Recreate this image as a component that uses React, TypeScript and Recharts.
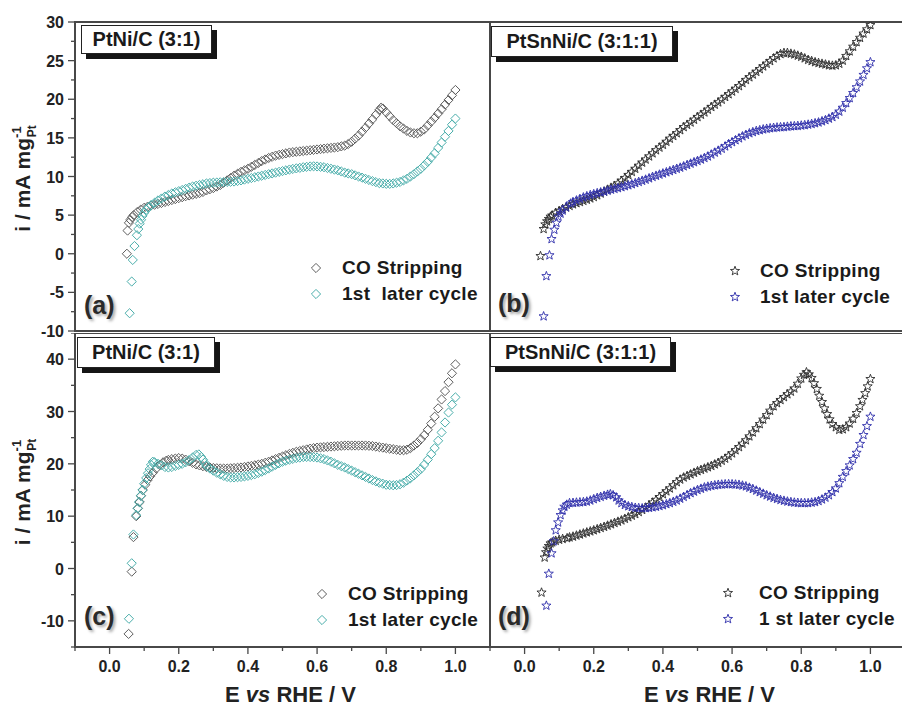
import React from 'react';
import { ScatterChart, Scatter, XAxis, YAxis, ReferenceArea, Legend } from 'recharts';

type Pt = [number, number];

// (a) PtNi/C (3:1), top
const aCo: Pt[] = [
  [0.05, 0], [0.052, 3], [0.056, 4.0], [0.06, 4.4], [0.065, 4.75], [0.07, 5.0], [0.08, 5.4], [0.09, 5.7], [0.1, 5.95],
  [0.11, 6.1], [0.12, 6.25], [0.13, 6.35], [0.14, 6.45], [0.15, 6.57], [0.16, 6.7], [0.17, 6.82], [0.18, 6.95],
  [0.19, 7.07], [0.2, 7.2], [0.21, 7.32], [0.22, 7.45], [0.23, 7.55], [0.24, 7.65], [0.25, 7.75], [0.26, 7.85],
  [0.27, 8.0], [0.28, 8.2], [0.29, 8.35], [0.3, 8.5], [0.31, 8.7], [0.32, 8.9], [0.33, 9.2], [0.34, 9.5], [0.35, 9.8],
  [0.36, 10.1], [0.37, 10.35], [0.38, 10.6], [0.39, 10.8], [0.4, 11.0], [0.41, 11.25], [0.42, 11.5], [0.43, 11.75],
  [0.44, 12.0], [0.45, 12.2], [0.46, 12.4], [0.47, 12.55], [0.48, 12.7], [0.49, 12.8], [0.5, 12.9], [0.51, 13.0],
  [0.52, 13.1], [0.53, 13.15], [0.54, 13.2], [0.55, 13.25], [0.56, 13.3], [0.57, 13.35], [0.58, 13.4], [0.59, 13.45],
  [0.6, 13.5], [0.61, 13.55], [0.62, 13.6], [0.63, 13.65], [0.64, 13.7], [0.65, 13.75], [0.66, 13.8], [0.67, 13.9],
  [0.68, 14.0], [0.69, 14.2], [0.7, 14.5], [0.71, 14.9], [0.72, 15.3], [0.73, 15.8], [0.74, 16.3], [0.75, 16.85],
  [0.76, 17.4], [0.77, 18.0], [0.78, 18.6], [0.785, 18.9], [0.79, 18.8], [0.8, 18.3], [0.81, 17.8], [0.82, 17.3],
  [0.83, 16.9], [0.84, 16.5], [0.85, 16.2], [0.86, 15.9], [0.87, 15.7], [0.88, 15.6], [0.89, 15.6], [0.9, 15.8],
  [0.91, 16.1], [0.92, 16.6], [0.93, 17.1], [0.94, 17.6], [0.95, 18.15], [0.96, 18.7], [0.97, 19.3], [0.98, 19.9],
  [0.99, 20.5], [1.0, 21.2],
];
const aLater: Pt[] = [
  [0.058, -7.7], [0.064, -3.6], [0.067, -0.8], [0.072, 1.0], [0.079, 2.4], [0.083, 3.2], [0.087, 3.9], [0.091, 4.4],
  [0.095, 4.9], [0.1, 5.3], [0.106, 5.7], [0.113, 6.0], [0.12, 6.3], [0.13, 6.6], [0.14, 6.9], [0.15, 7.15], [0.16, 7.4],
  [0.17, 7.6], [0.18, 7.8], [0.19, 7.95], [0.2, 8.1], [0.21, 8.25], [0.22, 8.4], [0.23, 8.55], [0.24, 8.7], [0.25, 8.8],
  [0.26, 8.9], [0.27, 9.0], [0.28, 9.1], [0.29, 9.15], [0.3, 9.2], [0.31, 9.22], [0.32, 9.25], [0.33, 9.27], [0.34, 9.3],
  [0.35, 9.32], [0.36, 9.35], [0.37, 9.42], [0.38, 9.5], [0.39, 9.6], [0.4, 9.7], [0.41, 9.8], [0.42, 9.9], [0.43, 10.0],
  [0.44, 10.1], [0.45, 10.2], [0.46, 10.3], [0.47, 10.4], [0.48, 10.5], [0.49, 10.6], [0.5, 10.7], [0.51, 10.8],
  [0.52, 10.9], [0.53, 10.98], [0.54, 11.05], [0.55, 11.12], [0.56, 11.2], [0.57, 11.25], [0.58, 11.3], [0.59, 11.32],
  [0.6, 11.3], [0.61, 11.25], [0.62, 11.2], [0.63, 11.1], [0.64, 11.0], [0.65, 10.9], [0.66, 10.8], [0.67, 10.65],
  [0.68, 10.5], [0.69, 10.4], [0.7, 10.3], [0.71, 10.15], [0.72, 10.0], [0.73, 9.85], [0.74, 9.7], [0.75, 9.55],
  [0.76, 9.4], [0.77, 9.27], [0.78, 9.15], [0.79, 9.1], [0.8, 9.05], [0.81, 9.05], [0.82, 9.1], [0.83, 9.2], [0.84, 9.3],
  [0.85, 9.5], [0.86, 9.7], [0.87, 10.0], [0.88, 10.3], [0.89, 10.65], [0.9, 11.0], [0.91, 11.45], [0.92, 11.9],
  [0.93, 12.45], [0.94, 13.0], [0.95, 13.7], [0.96, 14.4], [0.97, 15.15], [0.98, 15.9], [0.99, 16.7], [1.0, 17.5],
];

// (b) PtSnNi/C (3:1:1), top
const bCo: Pt[] = [
  [0.046, -0.3], [0.055, 3.2], [0.06, 3.8], [0.065, 4.2], [0.07, 4.5], [0.075, 4.8], [0.08, 4.95], [0.09, 5.3],
  [0.1, 5.55], [0.11, 5.8], [0.12, 6.0], [0.13, 6.2], [0.14, 6.4], [0.15, 6.55], [0.16, 6.7], [0.17, 6.85], [0.18, 7.0],
  [0.19, 7.17], [0.2, 7.35], [0.21, 7.57], [0.22, 7.8], [0.23, 8.05], [0.24, 8.3], [0.25, 8.55], [0.26, 8.8],
  [0.27, 9.1], [0.28, 9.45], [0.29, 9.8], [0.3, 10.2], [0.31, 10.6], [0.32, 11.0], [0.33, 11.4], [0.34, 11.8],
  [0.35, 12.2], [0.36, 12.6], [0.37, 13.0], [0.38, 13.4], [0.39, 13.75], [0.4, 14.1], [0.41, 14.5], [0.42, 14.9],
  [0.43, 15.25], [0.44, 15.6], [0.45, 16.0], [0.46, 16.4], [0.47, 16.7], [0.48, 17.0], [0.49, 17.35], [0.5, 17.7],
  [0.51, 18.0], [0.52, 18.3], [0.53, 18.65], [0.54, 19.0], [0.55, 19.3], [0.56, 19.6], [0.57, 19.95], [0.58, 20.3],
  [0.59, 20.65], [0.6, 21.0], [0.61, 21.35], [0.62, 21.7], [0.63, 22.1], [0.64, 22.5], [0.65, 22.85], [0.66, 23.2],
  [0.67, 23.55], [0.68, 23.9], [0.69, 24.25], [0.7, 24.6], [0.71, 24.95], [0.72, 25.3], [0.73, 25.6], [0.74, 25.85],
  [0.75, 26.0], [0.76, 26.0], [0.77, 25.9], [0.78, 25.8], [0.79, 25.65], [0.8, 25.5], [0.81, 25.3], [0.82, 25.1],
  [0.83, 24.95], [0.84, 24.8], [0.85, 24.7], [0.86, 24.6], [0.87, 24.5], [0.88, 24.4], [0.89, 24.35], [0.9, 24.4],
  [0.91, 24.6], [0.92, 25.0], [0.93, 25.6], [0.94, 26.2], [0.95, 26.8], [0.96, 27.4], [0.97, 27.95], [0.98, 28.5],
  [0.99, 29.05], [1.0, 29.6],
];
const bLater: Pt[] = [
  [0.055, -8.1], [0.063, -2.9], [0.072, -0.2], [0.078, 1.9], [0.086, 3.1], [0.092, 4.0], [0.098, 4.8], [0.104, 5.2],
  [0.11, 5.6], [0.12, 6.0], [0.133, 6.5], [0.14, 6.7], [0.15, 6.9], [0.16, 7.1], [0.17, 7.3], [0.18, 7.45], [0.19, 7.6],
  [0.2, 7.72], [0.21, 7.85], [0.22, 7.95], [0.23, 8.05], [0.24, 8.17], [0.25, 8.3], [0.26, 8.4], [0.27, 8.5],
  [0.28, 8.62], [0.29, 8.75], [0.3, 8.87], [0.31, 9.0], [0.32, 9.15], [0.33, 9.3], [0.34, 9.45], [0.35, 9.6],
  [0.36, 9.77], [0.37, 9.95], [0.38, 10.1], [0.39, 10.25], [0.4, 10.4], [0.41, 10.55], [0.42, 10.7], [0.43, 10.85],
  [0.44, 11.0], [0.45, 11.15], [0.46, 11.32], [0.47, 11.5], [0.48, 11.67], [0.49, 11.85], [0.5, 12.02], [0.51, 12.2],
  [0.52, 12.4], [0.53, 12.6], [0.54, 12.85], [0.55, 13.1], [0.56, 13.35], [0.57, 13.6], [0.58, 13.9], [0.59, 14.2],
  [0.6, 14.45], [0.61, 14.7], [0.62, 14.95], [0.63, 15.2], [0.64, 15.4], [0.65, 15.6], [0.66, 15.75], [0.67, 15.9],
  [0.68, 16.0], [0.69, 16.1], [0.7, 16.18], [0.71, 16.25], [0.72, 16.3], [0.73, 16.35], [0.74, 16.38], [0.75, 16.4],
  [0.76, 16.45], [0.77, 16.5], [0.78, 16.52], [0.79, 16.55], [0.8, 16.6], [0.81, 16.65], [0.82, 16.72], [0.83, 16.8],
  [0.84, 16.9], [0.85, 17.0], [0.86, 17.15], [0.87, 17.3], [0.88, 17.5], [0.89, 17.7], [0.9, 18.0], [0.91, 18.4],
  [0.92, 18.9], [0.93, 19.5], [0.94, 20.15], [0.95, 20.8], [0.96, 21.55], [0.97, 22.3], [0.98, 23.15], [0.99, 24.0],
  [1.0, 24.8],
];

// (c) PtNi/C (3:1), bottom
const cCo: Pt[] = [
  [0.055, -12.5], [0.064, -0.6], [0.069, 6.0], [0.077, 10.0], [0.082, 11.5], [0.087, 12.7], [0.091, 13.9], [0.096, 15.0],
  [0.103, 16.0], [0.11, 16.9], [0.117, 17.6], [0.125, 18.3], [0.135, 19.1], [0.145, 19.8], [0.155, 20.3], [0.164, 20.6],
  [0.17, 20.75], [0.18, 20.9], [0.19, 21.0], [0.2, 21.1], [0.21, 21.0], [0.22, 20.8], [0.23, 20.5], [0.24, 20.2],
  [0.25, 19.9], [0.26, 19.7], [0.27, 19.55], [0.28, 19.4], [0.29, 19.3], [0.3, 19.2], [0.31, 19.15], [0.32, 19.1],
  [0.33, 19.1], [0.34, 19.1], [0.35, 19.15], [0.36, 19.2], [0.37, 19.25], [0.38, 19.3], [0.39, 19.4], [0.4, 19.5],
  [0.41, 19.6], [0.42, 19.7], [0.43, 19.85], [0.44, 20.0], [0.45, 20.2], [0.46, 20.4], [0.47, 20.65], [0.48, 20.9],
  [0.49, 21.15], [0.5, 21.4], [0.51, 21.65], [0.52, 21.9], [0.53, 22.1], [0.54, 22.3], [0.55, 22.45], [0.56, 22.6],
  [0.57, 22.75], [0.58, 22.9], [0.59, 23.0], [0.6, 23.1], [0.61, 23.15], [0.62, 23.2], [0.63, 23.25], [0.64, 23.3],
  [0.65, 23.35], [0.66, 23.4], [0.67, 23.45], [0.68, 23.5], [0.69, 23.5], [0.7, 23.5], [0.71, 23.5], [0.72, 23.5],
  [0.73, 23.5], [0.74, 23.5], [0.75, 23.45], [0.76, 23.4], [0.77, 23.3], [0.78, 23.2], [0.79, 23.1], [0.8, 23.0],
  [0.81, 22.9], [0.82, 22.8], [0.83, 22.7], [0.84, 22.6], [0.85, 22.6], [0.86, 22.7], [0.87, 23.0], [0.88, 23.5],
  [0.89, 24.0], [0.9, 24.7], [0.91, 25.5], [0.92, 26.5], [0.93, 27.7], [0.94, 29.0], [0.95, 30.6], [0.96, 32.3],
  [0.97, 33.9], [0.98, 35.6], [0.99, 37.3], [1.0, 39.0],
];
const cLater: Pt[] = [
  [0.056, -9.6], [0.064, 1.0], [0.069, 6.5], [0.077, 10.2], [0.081, 11.5], [0.085, 12.7], [0.09, 13.9], [0.095, 15.0],
  [0.1, 16.2], [0.106, 17.3], [0.111, 18.2], [0.116, 19.0], [0.12, 19.8], [0.125, 20.4], [0.13, 20.3], [0.14, 20.0],
  [0.15, 19.7], [0.16, 19.4], [0.17, 19.3], [0.18, 19.4], [0.19, 19.6], [0.2, 19.8], [0.21, 20.0], [0.22, 20.3],
  [0.23, 20.7], [0.24, 21.2], [0.25, 21.7], [0.258, 21.8], [0.265, 21.3], [0.27, 20.8], [0.275, 20.2], [0.28, 19.6],
  [0.29, 19.1], [0.3, 18.7], [0.31, 18.3], [0.32, 18.0], [0.33, 17.7], [0.34, 17.5], [0.35, 17.4], [0.36, 17.4],
  [0.37, 17.45], [0.38, 17.5], [0.39, 17.6], [0.4, 17.7], [0.41, 17.85], [0.42, 18.0], [0.43, 18.25], [0.44, 18.5],
  [0.45, 18.8], [0.46, 19.1], [0.47, 19.45], [0.48, 19.8], [0.49, 20.1], [0.5, 20.4], [0.51, 20.6], [0.52, 20.8],
  [0.53, 20.95], [0.54, 21.1], [0.55, 21.2], [0.56, 21.3], [0.57, 21.32], [0.58, 21.3], [0.59, 21.27], [0.6, 21.2],
  [0.61, 21.05], [0.62, 20.9], [0.63, 20.65], [0.64, 20.4], [0.65, 20.1], [0.66, 19.8], [0.67, 19.55], [0.68, 19.3],
  [0.69, 19.0], [0.7, 18.7], [0.71, 18.4], [0.72, 18.1], [0.73, 17.8], [0.74, 17.5], [0.75, 17.2], [0.76, 16.9],
  [0.77, 16.65], [0.78, 16.4], [0.79, 16.2], [0.8, 16.0], [0.81, 15.95], [0.82, 15.9], [0.83, 15.95], [0.84, 16.1],
  [0.85, 16.4], [0.86, 16.8], [0.87, 17.25], [0.88, 17.8], [0.89, 18.4], [0.9, 19.0], [0.91, 19.85], [0.92, 20.8],
  [0.93, 21.85], [0.94, 23.0], [0.95, 24.4], [0.96, 26.0], [0.97, 27.9], [0.98, 29.8], [0.99, 31.3], [1.0, 32.7],
];

// (d) PtSnNi/C (3:1:1), bottom
const dCo: Pt[] = [
  [0.049, -4.6], [0.058, 2.1], [0.062, 3.1], [0.066, 3.8], [0.07, 4.3], [0.075, 4.8], [0.08, 5.0], [0.09, 5.3],
  [0.1, 5.5], [0.11, 5.65], [0.123, 5.8], [0.13, 5.95], [0.14, 6.1], [0.15, 6.3], [0.16, 6.5], [0.17, 6.7], [0.18, 6.9],
  [0.19, 7.1], [0.2, 7.3], [0.21, 7.52], [0.22, 7.75], [0.23, 7.97], [0.24, 8.2], [0.25, 8.45], [0.26, 8.7],
  [0.27, 8.95], [0.28, 9.2], [0.29, 9.5], [0.3, 9.8], [0.31, 10.1], [0.32, 10.4], [0.33, 10.8], [0.34, 11.2],
  [0.35, 11.65], [0.36, 12.1], [0.37, 12.6], [0.38, 13.1], [0.39, 13.65], [0.4, 14.2], [0.41, 14.75], [0.42, 15.3],
  [0.43, 15.9], [0.44, 16.5], [0.45, 17.0], [0.46, 17.4], [0.47, 17.7], [0.48, 18.0], [0.49, 18.3], [0.5, 18.6],
  [0.51, 18.85], [0.52, 19.1], [0.53, 19.35], [0.54, 19.6], [0.55, 19.9], [0.56, 20.2], [0.57, 20.6], [0.58, 21.0],
  [0.59, 21.5], [0.6, 22.0], [0.61, 22.6], [0.62, 23.2], [0.63, 23.85], [0.64, 24.5], [0.65, 25.25], [0.66, 26.0],
  [0.67, 26.8], [0.68, 27.6], [0.69, 28.45], [0.7, 29.3], [0.71, 30.15], [0.72, 31.0], [0.73, 31.6], [0.74, 32.2],
  [0.75, 32.75], [0.76, 33.3], [0.77, 33.8], [0.78, 34.4], [0.79, 35.3], [0.8, 36.3], [0.808, 37.0], [0.815, 37.5],
  [0.822, 37.1], [0.83, 36.4], [0.837, 35.4], [0.845, 34.3], [0.852, 33.0], [0.86, 31.8], [0.867, 30.6], [0.875, 29.5],
  [0.882, 28.5], [0.89, 27.6], [0.9, 27.0], [0.91, 26.5], [0.92, 26.6], [0.93, 27.0], [0.94, 27.7], [0.95, 28.6],
  [0.96, 29.7], [0.97, 31.0], [0.977, 32.2], [0.985, 33.5], [0.992, 34.8], [1.0, 36.2],
];
const dLater: Pt[] = [
  [0.063, -7.1], [0.07, -1.0], [0.078, 2.9], [0.084, 5.2], [0.09, 7.3], [0.097, 8.8], [0.104, 10.2], [0.11, 11.1],
  [0.115, 11.8], [0.122, 12.2], [0.13, 12.5], [0.14, 12.55], [0.15, 12.6], [0.16, 12.65], [0.17, 12.7], [0.18, 12.8],
  [0.19, 13.0], [0.2, 13.25], [0.21, 13.5], [0.22, 13.7], [0.23, 13.9], [0.24, 14.1], [0.248, 14.2], [0.256, 14.0],
  [0.265, 13.6], [0.272, 13.0], [0.28, 12.5], [0.29, 12.15], [0.3, 11.9], [0.31, 11.75], [0.32, 11.6], [0.33, 11.55],
  [0.34, 11.5], [0.35, 11.55], [0.36, 11.6], [0.37, 11.7], [0.38, 11.8], [0.39, 11.95], [0.4, 12.1], [0.41, 12.3],
  [0.42, 12.5], [0.43, 12.75], [0.44, 13.0], [0.45, 13.35], [0.46, 13.7], [0.47, 14.05], [0.48, 14.4], [0.49, 14.7],
  [0.5, 15.0], [0.51, 15.25], [0.52, 15.5], [0.53, 15.65], [0.54, 15.8], [0.55, 15.9], [0.56, 16.0], [0.57, 16.05],
  [0.58, 16.1], [0.59, 16.12], [0.6, 16.1], [0.61, 16.05], [0.62, 16.0], [0.63, 15.85], [0.64, 15.7], [0.65, 15.45],
  [0.66, 15.2], [0.67, 14.9], [0.68, 14.6], [0.69, 14.3], [0.7, 14.0], [0.71, 13.75], [0.72, 13.5], [0.73, 13.3],
  [0.74, 13.1], [0.75, 12.95], [0.76, 12.8], [0.77, 12.7], [0.78, 12.6], [0.79, 12.55], [0.8, 12.5], [0.81, 12.5],
  [0.82, 12.5], [0.83, 12.6], [0.84, 12.7], [0.85, 12.9], [0.86, 13.2], [0.87, 13.55], [0.88, 14.0], [0.89, 14.6],
  [0.9, 15.3], [0.91, 16.3], [0.92, 17.5], [0.93, 18.6], [0.94, 19.7], [0.95, 20.9], [0.96, 22.1], [0.97, 23.8],
  [0.98, 25.5], [0.99, 27.2], [1.0, 29.0],
];

const xTicks = [-0.1, 0, 0.1, 0.2, 0.3, 0.4, 0.5, 0.6, 0.7, 0.8, 0.9, 1.0, 1.1];
const topYTicks = [-10, -7.5, -5, -2.5, 0, 2.5, 5, 7.5, 10, 12.5, 15, 17.5, 20, 22.5, 25, 27.5, 30];
const bottomYTicks = [-15, -10, -5, 0, 5, 10, 15, 20, 25, 30, 35, 40, 45];

const FONT = "'Liberation Sans', Arial, sans-serif";
const GRAY = '#5e5e5e';
const TEAL = '#4aaeab';
const BLACK = '#2b2b2b';
const BLUE = '#2e2eaa';
const FRAME = '#484848';

const toData = (pts: Pt[]) => pts.map(([e, i]) => ({ e, i }));

function Marker({ kind, cx, cy, color }: { kind: string; cx: number; cy: number; color: string }) {
  if (kind === 'diamond') {
    const r = 4.6;
    return (
      <path
        d={`M${cx},${cy - r}L${cx + r},${cy}L${cx},${cy + r}L${cx - r},${cy}Z`}
        fill="none"
        stroke={color}
        strokeWidth={1}
      />
    );
  }
  const pts: string[] = [];
  for (let k = 0; k < 10; k++) {
    const rr = k % 2 === 0 ? 4.8 : 2.0;
    const a = -Math.PI / 2 + (k * Math.PI) / 5;
    pts.push(`${cx + rr * Math.cos(a)},${cy + rr * Math.sin(a)}`);
  }
  return <polygon points={pts.join(' ')} fill="none" stroke={color} strokeWidth={0.9} />;
}

const yTick = (majorStep: number) => (p: any) => {
  const v = p.payload.value;
  const major = v % majorStep === 0;
  return (
    <g>
      <line x1={p.x} x2={p.x - (major ? 7 : 4)} y1={p.y} y2={p.y} stroke={FRAME} strokeWidth={1.3} />
      {major && (
        <text x={p.x - 11} y={p.y} dy={6} textAnchor="end" fontSize={16} fontWeight="bold" fill="#222" fontFamily={FONT}>
          {v}
        </text>
      )}
    </g>
  );
};

const xTick = (p: any) => {
  const v = p.payload.value;
  const major = Math.abs(Math.round(v * 10)) % 2 === 0;
  return (
    <g>
      <line x1={p.x} x2={p.x} y1={p.y} y2={p.y + (major ? 7 : 4)} stroke={FRAME} strokeWidth={1.3} />
      {major && (
        <text x={p.x} y={p.y + 25} textAnchor="middle" fontSize={16} fontWeight="bold" fill="#222" fontFamily={FONT}>
          {v.toFixed(1)}
        </text>
      )}
    </g>
  );
};

const yLabel = (p: any) => {
  const vb = p.viewBox;
  const x = 30;
  const y = vb.y + vb.height / 2 + 2;
  return (
    <text
      transform={`rotate(-90 ${x} ${y})`}
      x={x}
      y={y}
      textAnchor="middle"
      fontSize={21}
      fontWeight="bold"
      fill="#222"
      fontFamily={FONT}
    >
      i / mA mg
      <tspan dy={-9} fontSize={13}>-1</tspan>
      <tspan dx={-11} dy={15} fontSize={12}>Pt</tspan>
    </text>
  );
};

const xLabel = (shift: number) => (p: any) => {
  const vb = p.viewBox;
  return (
    <text
      x={vb.x + vb.width / 2 + shift}
      y={702 - 333}
      textAnchor="middle"
      fontSize={22}
      fontWeight="bold"
      fill="#222"
      fontFamily={FONT}
    >
      E <tspan fontStyle="italic">vs</tspan> RHE / V
    </text>
  );
};

interface Series {
  name: string;
  data: Pt[];
  color: string;
}

interface PanelProps {
  left: number;
  top: number;
  width: number;
  height: number;
  margin: { top: number; right: number; bottom: number; left: number };
  yDomain: [number, number];
  yTicks: number[];
  majorStep: number;
  showY: boolean;
  showX: boolean;
  xShift: number;
  kind: string;
  series: Series[];
  legendPos: { left: number; top: number; gap: number };
}

function Panel(props: PanelProps) {
  const { series, kind, legendPos } = props;
  // legend rows follow the series order
  const legendContent = () => (
    <div style={{ fontFamily: FONT }}>
      {series.map((s) => (
        <div key={s.name} style={{ display: 'flex', alignItems: 'center', height: 26 }}>
          <svg width={legendPos.gap} height={26} style={{ display: 'block' }}>
            <Marker kind={kind} cx={8} cy={13} color={s.color} />
          </svg>
          <span style={{ fontSize: 19, fontWeight: 'bold', color: '#1a1a1a', whiteSpace: 'pre', letterSpacing: 0.3 }}>
            {s.name}
          </span>
        </div>
      ))}
    </div>
  );
  return (
    <div style={{ position: 'absolute', left: props.left, top: props.top }}>
      <ScatterChart width={props.width} height={props.height} margin={props.margin}>
        <XAxis
          type="number"
          dataKey="e"
          domain={[-0.1, 1.1]}
          allowDataOverflow
          ticks={xTicks}
          hide={!props.showX}
          height={61}
          axisLine={{ stroke: FRAME, strokeWidth: 2 }}
          tickLine={false}
          tickSize={0}
          tickMargin={0}
          tick={xTick}
          interval={0}
          label={{ content: xLabel(props.xShift) }}
        />
        <YAxis
          type="number"
          dataKey="i"
          domain={props.yDomain}
          allowDataOverflow
          ticks={props.yTicks}
          hide={!props.showY}
          width={75}
          axisLine={{ stroke: FRAME, strokeWidth: 2 }}
          tickLine={false}
          tickSize={0}
          tickMargin={0}
          tick={yTick(props.majorStep)}
          interval={0}
          label={{ content: yLabel }}
        />
        <ReferenceArea
          x1={-0.1}
          x2={1.1}
          y1={props.yDomain[0]}
          y2={props.yDomain[1]}
          fill="none"
          fillOpacity={0}
          stroke={FRAME}
          strokeWidth={2}
          ifOverflow="visible"
        />
        {series.map((s) => (
          <Scatter
            key={s.name}
            name={s.name}
            data={toData(s.data)}
            fill={s.color}
            isAnimationActive={false}
            shape={(sp: any) => <Marker kind={kind} cx={sp.cx} cy={sp.cy} color={s.color} />}
          />
        ))}
        <Legend
          layout="vertical"
          align="center"
          verticalAlign="middle"
          wrapperStyle={{ left: legendPos.left, top: legendPos.top, width: 'auto' }}
          content={legendContent}
        />
      </ScatterChart>
    </div>
  );
}

function TitleBox({ left, top, width, height, text }: { left: number; top: number; width: number; height: number; text: string }) {
  return (
    <div
      style={{
        position: 'absolute',
        left,
        top,
        width,
        height,
        boxSizing: 'border-box',
        border: '1px solid #222',
        background: '#fff',
        boxShadow: '5px 5px 0 #151515',
        display: 'flex',
        alignItems: 'center',
        justifyContent: 'center',
        fontFamily: FONT,
        fontWeight: 'bold',
        fontSize: 20,
        color: '#1a1a1a',
      }}
    >
      {text}
    </div>
  );
}

function Letter({ left, top, text }: { left: number; top: number; text: string }) {
  return (
    <div
      style={{
        position: 'absolute',
        left,
        top,
        fontFamily: FONT,
        fontWeight: 'bold',
        fontSize: 25,
        lineHeight: '25px',
        color: '#2a2a2a',
        textShadow: '2px 2px 3px rgba(0,0,0,0.35)',
      }}
    >
      {text}
    </div>
  );
}

export default function App() {
  return (
    <div
      style={{
        position: 'absolute',
        left: 0,
        top: 0,
        width: 902,
        height: 708,
        overflow: 'hidden',
        background: '#fff',
        fontFamily: FONT,
      }}
    >
      <Panel
        left={0}
        top={0}
        width={490}
        height={340}
        margin={{ top: 22, right: 0, bottom: 9, left: 0 }}
        yDomain={[-10, 30]}
        yTicks={topYTicks}
        majorStep={5}
        showY
        showX={false}
        xShift={0}
        kind="diamond"
        series={[
          { name: 'CO Stripping', data: aCo, color: GRAY },
          { name: '1st  later cycle', data: aLater, color: TEAL },
        ]}
        legendPos={{ left: 308, top: 255, gap: 34 }}
      />
      <Panel
        left={490}
        top={0}
        width={415}
        height={340}
        margin={{ top: 22, right: 0, bottom: 9, left: 0 }}
        yDomain={[-10, 30]}
        yTicks={topYTicks}
        majorStep={5}
        showY={false}
        showX={false}
        xShift={0}
        kind="star"
        series={[
          { name: 'CO Stripping', data: bCo, color: BLACK },
          { name: '1st later cycle', data: bLater, color: BLUE },
        ]}
        legendPos={{ left: 237, top: 258, gap: 33 }}
      />
      <Panel
        left={0}
        top={333}
        width={490}
        height={375}
        margin={{ top: 0, right: 0, bottom: 0, left: 0 }}
        yDomain={[-15, 45]}
        yTicks={bottomYTicks}
        majorStep={10}
        showY
        showX
        xShift={8}
        kind="diamond"
        series={[
          { name: 'CO Stripping', data: cCo, color: GRAY },
          { name: '1st later cycle', data: cLater, color: TEAL },
        ]}
        legendPos={{ left: 314, top: 248, gap: 34 }}
      />
      <Panel
        left={490}
        top={333}
        width={415}
        height={375}
        margin={{ top: 0, right: 0, bottom: 0, left: 0 }}
        yDomain={[-15, 45]}
        yTicks={bottomYTicks}
        majorStep={10}
        showY={false}
        showX
        xShift={12}
        kind="star"
        series={[
          { name: 'CO Stripping', data: dCo, color: BLACK },
          { name: '1 st later cycle', data: dLater, color: BLUE },
        ]}
        legendPos={{ left: 230, top: 247, gap: 39 }}
      />
      <TitleBox left={81} top={25} width={131} height={29} text="PtNi/C (3:1)" />
      <TitleBox left={491} top={26} width={182} height={31} text="PtSnNi/C (3:1:1)" />
      <TitleBox left={77} top={337} width={138} height={31} text="PtNi/C (3:1)" />
      <TitleBox left={490} top={337} width={181} height={30} text="PtSnNi/C (3:1:1)" />
      <Letter left={84} top={293} text="(a)" />
      <Letter left={498} top={291} text="(b)" />
      <Letter left={84} top={604} text="(c)" />
      <Letter left={498} top={604} text="(d)" />
    </div>
  );
}
